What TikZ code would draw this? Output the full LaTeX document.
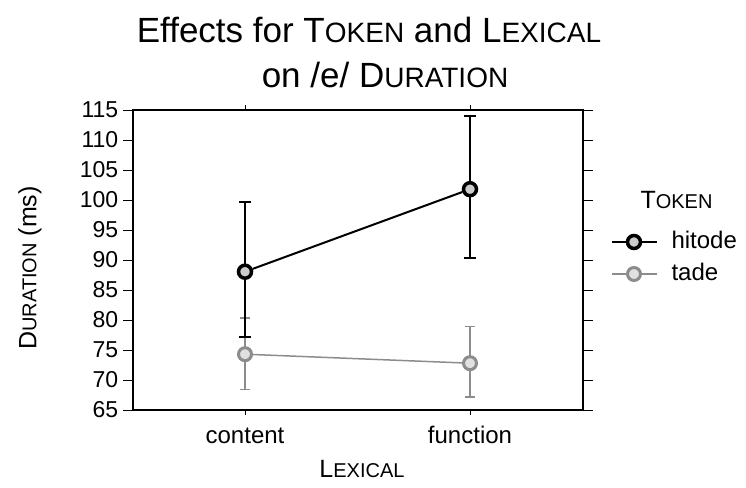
\documentclass[tikz,border=0pt]{standalone}
\usepackage{fontspec}
\setmainfont{Liberation Sans}
\usetikzlibrary{positioning}

\definecolor{tadegray}{gray}{0.55}
\definecolor{markfill}{gray}{0.8}
\newcommand{\smallcap}[2]{#1\scalebox{0.8}{#2}}

\tikzset{
  hitode/.style={black, line width=2pt},
  tade/.style={tadegray, line width=1.5pt},
  hitodemark/.style={circle, draw=black, line width=3.5pt, fill=markfill, minimum size=13pt, inner sep=0pt},
  tademark/.style={circle, draw=tadegray, line width=3pt, fill=markfill!60, minimum size=13pt, inner sep=0pt},
  ticklab/.style={font=\fontsize{23}{26}\selectfont},
  catlab/.style={font=\fontsize{24}{28}\selectfont},
  axislab/.style={font=\fontsize{25}{29}\selectfont},
}

\begin{document}
\begin{tikzpicture}[x=1pt, y=-1pt]
    \useasboundingbox (0,0) rectangle (746,487);
    % title
    \node[anchor=base, font=\fontsize{35}{40}\selectfont] (title1) at (369,42)
        {Effects for \smallcap{T}{OKEN} and \smallcap{L}{EXICAL}};
    \node[anchor=base, font=\fontsize{35}{40}\selectfont] (title2) at (385,87)
        {on /e/ \smallcap{D}{URATION}};

    \begin{scope}[shift={(0,800)}, y=6pt]
        % frame and ticks
        \draw[line width=2pt] (133,65) rectangle (583,115);
        \foreach \v in {65,70,...,115} {
            \draw[line width=1pt] (133,\v) -- (123,\v) node[left=1pt, ticklab] {\v};
            \draw[line width=1pt] (583,\v) -- (593,\v);
        }
        \foreach \x/\lab in {245/content, 470/function} {
            \draw[line width=1pt] (\x,115) -- (\x,115.8);
            \draw[line width=1pt] (\x,65) -- (\x,64.2);
            \node[anchor=base, catlab] at (\x,59.4) {\lab};
        }

        % error bars
        \draw[tade] (245,68.4) -- (245,80.3) (240,68.4) -- (250,68.4) (240,80.3) -- (250,80.3);
        \draw[tade] (470,67.2) -- (470,78.9) (465,67.2) -- (475,67.2) (465,78.9) -- (475,78.9);
        \draw[hitode] (245,77.2) -- (245,99.6) (239,77.2) -- (251,77.2) (239,99.6) -- (251,99.6);
        \draw[hitode] (470,90.3) -- (470,114) (464,90.3) -- (476,90.3) (464,114) -- (476,114);

        % means
        \node[tademark] (tc) at (245,74.3) {};
        \node[tademark] (tf) at (470,72.8) {};
        \node[hitodemark] (hc) at (245,88.05) {};
        \node[hitodemark] (hf) at (470,101.8) {};
        \draw[tade] (tc) -- (tf);
        \draw[hitode] (hc) -- (hf);
    \end{scope}

    % axis labels
    \node[axislab, anchor=base] (xlab) at (362,477) {\smallcap{L}{EXICAL}};
    \node[axislab, rotate=90] (ylab) at (30,268) {\smallcap{D}{URATION} (ms)};

    % legend
    \node[axislab, anchor=base west] (legtitle) at (637,208) {\smallcap{T}{OKEN}};
    \coordinate (h1) at (612,242);
    \coordinate (h2) at (657,242);
    \node[hitodemark] (hm) at (634,242) {};
    \draw[hitode] (h1) -- (hm) -- (h2);
    \node[catlab, anchor=west] (hl) at (668,240) {hitode};
    \coordinate (t1) at (612,274);
    \coordinate (t2) at (657,274);
    \node[tademark] (tm) at (634,274) {};
    \draw[tade] (t1) -- (tm) -- (t2);
    \node[catlab, anchor=west] (tl) at (668,272) {tade};
\end{tikzpicture}
\end{document}
